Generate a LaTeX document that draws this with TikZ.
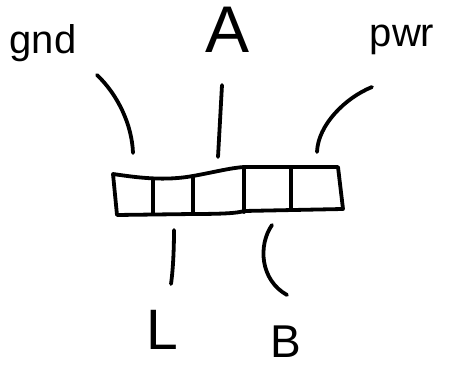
\documentclass[tikz,border=0pt]{standalone}
\usepackage{fontspec}
\setmainfont{Liberation Sans}
\tikzset{
  ink/.style={line width=3.8pt, line cap=round, line join=round, black},
  lbl/.style={anchor=base, inner sep=0pt, text=black}
}
\begin{document}
\begin{tikzpicture}[x=1pt,y=-1pt]
\useasboundingbox[fill=white] (0,0) rectangle (450,371);
% labels
\node[lbl, font=\fontsize{40}{44}\selectfont] (gnd) at (43,54) {gnd};
\node[lbl, font=\fontsize{66}{70}\selectfont] (A) at (228,53) {A};
\node[lbl, font=\fontsize{40}{44}\selectfont] (pwr) at (402,47) {pwr};
\node[lbl, font=\fontsize{57}{60}\selectfont] (L) at (162,350) {L};
\node[lbl, font=\fontsize{46}{50}\selectfont] (B) at (286,358) {B};
% strip of five cells
\draw[ink] (113,174) .. controls (140,178) and (165,181) .. (193,176)
  .. controls (215,172) and (230,168) .. (244,167) -- (338,167) -- (343,209)
  -- (244,211) .. controls (238,213) and (225,214) .. (193,214) -- (117,215) -- cycle;
\draw[ink] (153,180) -- (153,214);
\draw[ink] (193,176) -- (193,214);
\draw[ink] (244,167) -- (244,212);
\draw[ink] (291,167) -- (291,210);
% leader lines
\coordinate (g1) at (97,75);   \coordinate (g2) at (133,153);
\coordinate (a1) at (222,85);  \coordinate (a2) at (218,157);
\coordinate (p1) at (372,87);  \coordinate (p2) at (317,152);
\coordinate (l1) at (174,230); \coordinate (l2) at (171,284);
\coordinate (b1) at (272,225); \coordinate (b2) at (287,295);
\draw[ink] (g1) .. controls (118,95) and (132,125) .. (g2);
\draw[ink] (a1) -- (a2);
\draw[ink] (p1) .. controls (345,98) and (318,125) .. (p2);
\draw[ink] (l1) .. controls (174,250) and (173,270) .. (l2);
\draw[ink] (b1) .. controls (258,245) and (260,280) .. (b2);
\end{tikzpicture}
\end{document}
